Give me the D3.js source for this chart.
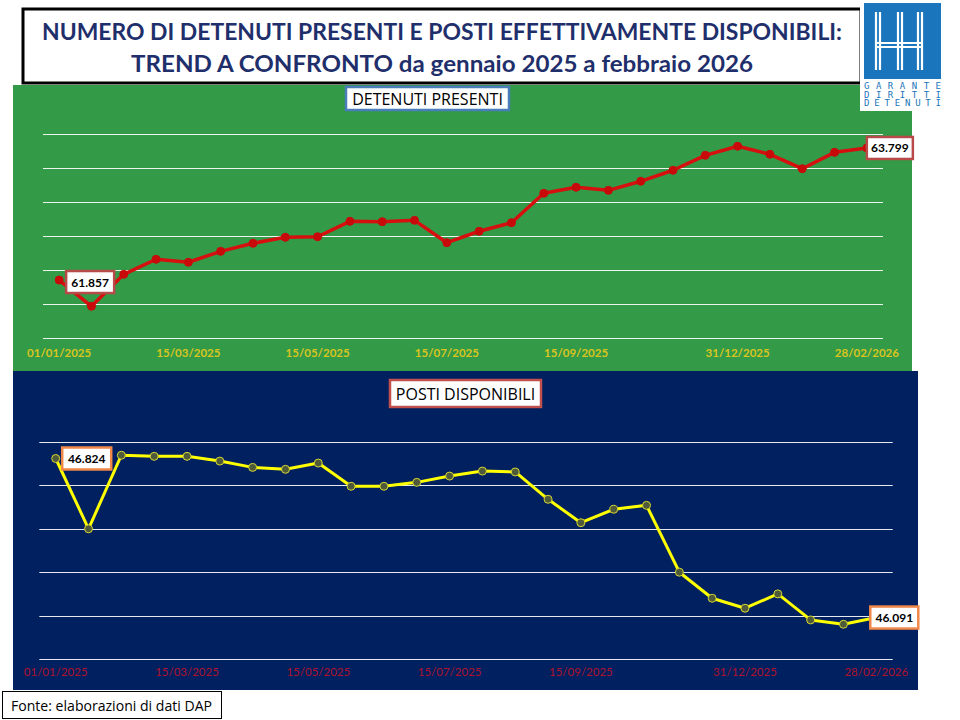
<!DOCTYPE html>
<html>
<head>
<meta charset="utf-8">
<title></title>
<script src="https://cdnjs.cloudflare.com/ajax/libs/d3/7.8.5/d3.min.js"></script>
<style>
  body { margin: 0; background: #fff; }
  text { font-family: Lato, "Open Sans", sans-serif; }
</style>
</head>
<body>
<script>
// date di rilevazione (asse categorie)
const dates = ['01/01/2025','31/01/2025','15/02/2025','28/02/2025','15/03/2025','31/03/2025','15/04/2025',
  '30/04/2025','15/05/2025','31/05/2025','15/06/2025','30/06/2025','15/07/2025','31/07/2025','15/08/2025',
  '31/08/2025','15/09/2025','30/09/2025','31/10/2025','15/11/2025','30/11/2025','31/12/2025','15/01/2026',
  '31/01/2026','15/02/2026','28/02/2026']
const tickDates = ['01/01/2025','15/03/2025','15/05/2025','15/07/2025','15/09/2025','31/12/2025','28/02/2026']

const detenuti = [61857, 61471, 61941, 62162, 62118, 62279, 62397, 62485, 62494, 62720, 62715, 62735, 62406,
  62574, 62700, 63132, 63221, 63176, 63309, 63471, 63691, 63824, 63706, 63494, 63735, 63799]
const posti = [46824, 46500, 46839, 46834, 46834, 46812, 46783, 46774, 46803, 46696, 46696, 46714, 46743,
  46766, 46762, 46636, 46528, 46590, 46608, 46300, 46180, 46134, 46200, 46080, 46060, 46091]

const detTicks = [61000, 61500, 62000, 62500, 63000, 63500, 64000]
const postiTicks = [45900, 46100, 46300, 46500, 46700, 46900]

const width = 960
const height = 720
const svg = d3.select('body').append('svg')
    .attr('width', width)
    .attr('height', height)

const fmt = v => d3.format(',')(v).replace(',', '.')

// titolo
svg.append('rect')
    .attr('x', 23).attr('y', 9).attr('width', 838).attr('height', 74)
    .attr('fill', '#fff').attr('stroke', '#000').attr('stroke-width', 3)
svg.append('text')
    .attr('x', 442).attr('y', 40)
    .attr('text-anchor', 'middle')
    .attr('textLength', 800).attr('lengthAdjust', 'spacingAndGlyphs')
    .style('font-size', '22px').style('font-weight', 'bold').attr('fill', '#1F2F6B')
    .text('NUMERO DI DETENUTI PRESENTI E POSTI EFFETTIVAMENTE DISPONIBILI:')
svg.append('text')
    .attr('x', 442).attr('y', 72)
    .attr('text-anchor', 'middle')
    .attr('textLength', 622).attr('lengthAdjust', 'spacingAndGlyphs')
    .style('font-size', '22px').style('font-weight', 'bold').attr('fill', '#1F2F6B')
    .text('TREND A CONFRONTO da gennaio 2025  a febbraio 2026')

function drawPanel(cfg) {
  const g = svg.append('g')
  g.append('rect')
      .attr('x', cfg.x0).attr('y', cfg.y0).attr('width', cfg.x1 - cfg.x0).attr('height', cfg.y1 - cfg.y0)
      .attr('fill', cfg.bg)

  const x = d3.scaleBand().domain(dates).range([cfg.gx0, cfg.gx1])
  const y = d3.scaleLinear().domain(d3.extent(cfg.ticks)).range([cfg.gyB, cfg.gyT])
  const cx = d => x(d) + x.bandwidth() / 2

  // griglia
  g.append('g').selectAll('line').data(cfg.ticks).join('line')
      .attr('x1', cfg.gx0).attr('x2', cfg.gx1)
      .attr('y1', d => Math.round(y(d)) + 0.5).attr('y2', d => Math.round(y(d)) + 0.5)
      .attr('stroke', '#fff').attr('stroke-width', 1.2).attr('opacity', 0.9)

  // asse x
  const ax = d3.axisBottom(x).tickValues(tickDates).tickSize(0).tickPadding(0)
  const axG = g.append('g').attr('transform', `translate(0,${cfg.axisY})`).call(ax)
  axG.select('.domain').remove()
  axG.selectAll('text')
      .attr('fill', cfg.tickColor)
      .style('font-family', 'Lato, sans-serif')
      .style('font-size', '11.5px').style('font-weight', cfg.tickWeight)

  // linea
  const line = d3.line().x((d, i) => cx(dates[i])).y(d => y(d))
  g.append('path').datum(cfg.values)
      .attr('d', line)
      .attr('fill', 'none').attr('stroke', cfg.lineColor).attr('stroke-width', cfg.lineWidth)
      .attr('stroke-linejoin', 'round')
  g.append('g').selectAll('circle').data(cfg.values).join('circle')
      .attr('cx', (d, i) => cx(dates[i])).attr('cy', d => y(d))
      .attr('r', cfg.r)
      .attr('fill', cfg.markerFill).attr('stroke', cfg.markerStroke).attr('stroke-width', 1)

  // etichette dati primo e ultimo
  cfg.labels.forEach(l => {
    const v = cfg.values[l.i]
    const px = cx(dates[l.i]) + l.dx
    const py = y(v) + l.dy
    g.append('rect')
        .attr('x', px - l.w / 2).attr('y', py - 11).attr('width', l.w).attr('height', 22)
        .attr('fill', '#fff').attr('stroke', cfg.labelStroke).attr('stroke-width', 2.5)
    g.append('text')
        .attr('x', px).attr('y', py + 4.5)
        .attr('text-anchor', 'middle')
        .style('font-size', '12px').style('font-weight', 'bold').attr('fill', '#000')
        .text(fmt(v))
  })

  // titolo pannello
  g.append('rect')
      .attr('x', cfg.tb.x).attr('y', cfg.tb.y).attr('width', cfg.tb.w).attr('height', cfg.tb.h)
      .attr('fill', '#fff').attr('stroke', cfg.tb.stroke).attr('stroke-width', 2.5)
  g.append('text')
      .attr('x', cfg.tb.x + cfg.tb.w / 2).attr('y', cfg.tb.y + cfg.tb.h / 2 + 6)
      .attr('text-anchor', 'middle')
      .style('font-family', '"Open Sans", sans-serif')
      .style('font-size', '16px').attr('fill', '#000')
      .text(cfg.title)
}

drawPanel({
  x0: 13, x1: 912, y0: 85, y1: 371, bg: '#339A48',
  gx0: 43, gx1: 883, gyB: 338.3, gyT: 134.3, ticks: detTicks, values: detenuti,
  axisY: 349, tickColor: '#D9C51E', tickWeight: 'bold',
  lineColor: '#D60F0F', lineWidth: 3.5, r: 4, markerFill: '#C80A0A', markerStroke: '#C80A0A',
  labelStroke: '#B84A4A',
  labels: [{ i: 0, dx: 31, dy: 2, w: 48 }, { i: 25, dx: 23, dy: 0, w: 46 }],
  tb: { x: 346, y: 87, w: 163, h: 23, stroke: '#4A7EBB' },
  title: 'DETENUTI PRESENTI'
})

drawPanel({
  x0: 13, x1: 918, y0: 371, y1: 690, bg: '#00205F',
  gx0: 39.3, gx1: 892.7, gyB: 659, gyT: 442, ticks: postiTicks, values: posti,
  axisY: 668, tickColor: '#B0122E', tickWeight: 'normal',
  lineColor: '#FFFF00', lineWidth: 3, r: 4, markerFill: '#4F5A3A', markerStroke: '#D8D830',
  labelStroke: '#F0884A',
  labels: [{ i: 0, dx: 31, dy: 0, w: 49 }, { i: 25, dx: 18, dy: 0, w: 48 }],
  tb: { x: 390, y: 380, w: 151, h: 27, stroke: '#C0504D' },
  title: 'POSTI DISPONIBILI'
})

// logo (sopra ai pannelli)
const logo = svg.append('g')
logo.append('rect').attr('x', 860).attr('y', 0).attr('width', 84).attr('height', 111).attr('fill', '#fff')
logo.append('rect').attr('x', 864).attr('y', 3).attr('width', 77).attr('height', 76).attr('fill', '#1A75BC')
logo.append('path')
    .attr('d', 'M876,12 L876,70 M880,12 L880,70 M898,12 L898,70 M902,12 L902,70 M918,12 L918,70 M922,12 L922,70 M876,43 L922,43 M876,47 L922,47')
    .attr('stroke', '#fff').attr('stroke-width', 2.2).attr('fill', 'none')
;['GARANTE', 'DIRITTI', 'DETENUTI'].forEach((t, i) => {
  logo.append('text')
      .attr('x', 864).attr('y', 89 + i * 8.5)
      .attr('textLength', 77).attr('lengthAdjust', 'spacing')
      .style('font-family', '"DejaVu Sans Mono", monospace').style('font-size', '9px')
      .attr('fill', '#1A75BC')
      .text(t)
})

// fonte
svg.append('rect')
    .attr('x', 2.5).attr('y', 691.5).attr('width', 219).attr('height', 27)
    .attr('fill', '#fff').attr('stroke', '#000').attr('stroke-width', 1)
svg.append('text')
    .attr('x', 11).attr('y', 711)
    .attr('textLength', 201).attr('lengthAdjust', 'spacingAndGlyphs')
    .style('font-family', '"Open Sans", sans-serif')
    .style('font-size', '14px').attr('fill', '#000')
    .text('Fonte: elaborazioni di dati DAP')
</script>
</body>
</html>
